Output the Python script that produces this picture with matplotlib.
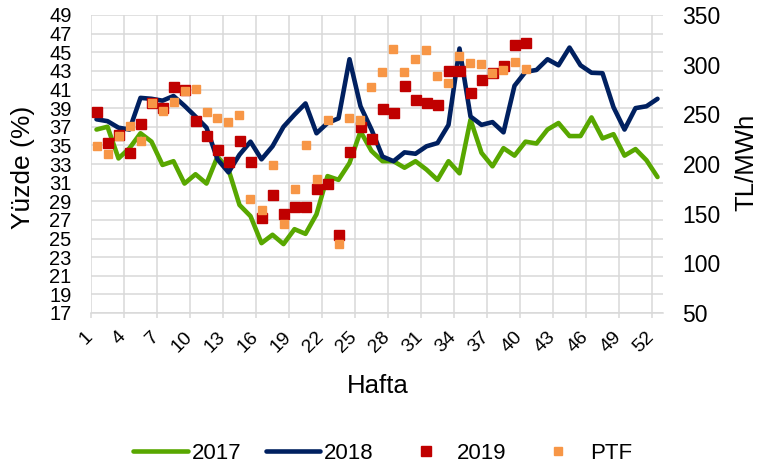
import numpy as np
import matplotlib
matplotlib.use("Agg")
import matplotlib.pyplot as plt

plt.rcParams["font.family"] = ["Liberation Sans", "DejaVu Sans"]

# haftalik degerler
weeks = np.arange(1, 53)

yuzde_2017 = [36.7, 37.0, 33.6, 34.7, 36.3, 35.4, 32.9, 33.3, 30.9, 31.9,
              30.9, 33.8, 32.4, 28.6, 27.4, 24.5, 25.4, 24.4, 26.0, 25.5,
              27.6, 31.7, 31.3, 33.1, 36.5, 34.4, 33.3, 33.3, 32.6, 33.3,
              32.4, 31.3, 33.3, 32.0, 37.75, 34.2, 32.75, 34.7, 33.9, 35.4,
              35.2, 36.7, 37.4, 36.0, 36.0, 38.0, 35.75, 36.2, 33.9, 34.6,
              33.4, 31.6]

yuzde_2018 = [37.8, 37.6, 36.9, 36.7, 40.1, 40.0, 39.8, 40.3, 39.25, 38.1,
              36.9, 33.5, 32.1, 34.0, 35.4, 33.5, 34.9, 37.0, 38.3, 39.5,
              36.3, 37.4, 37.9, 44.25, 39.2, 36.7, 33.8, 33.3, 34.25, 34.1,
              34.9, 35.25, 37.2, 45.4, 38.1, 37.2, 37.5, 36.4, 41.4, 42.9,
              43.1, 44.25, 43.6, 45.5, 43.6, 42.8, 42.75, 39.1, 36.7, 39.0,
              39.2, 40.0]

yuzde_2019 = [38.6, 35.25, 36.1, 34.2, 37.3, 39.6, 39.0, 41.25, 40.9, 37.6,
              36.0, 34.5, 33.2, 35.5, 33.2, 27.2, 29.7, 27.6, 28.4, 28.4,
              30.3, 30.8, 25.4, 34.3, 37.0, 35.7, 38.9, 38.5, 41.4, 39.9,
              39.5, 39.3, 43.0, 43.0, 40.6, 42.0, 42.8, 43.5, 45.8, 46.0]

ptf = [218, 210, 228, 238, 223, 261, 253, 262, 273, 276,
       252, 246, 242, 249, 165, 154, 199, 140, 175, 219,
       184.5, 244, 119, 246, 244, 278, 293, 316, 293, 306,
       315, 289, 281.5, 309, 302, 301, 292, 295, 303, 296]

weeks_2019 = np.arange(1, len(yuzde_2019) + 1)

left_ticks = np.arange(17, 50, 2)
right_ticks = np.arange(50, 351, 50)
week_ticks = np.arange(1, 53, 3)

grid_color = "#d9d9d9"

fig = plt.figure(figsize=(7.65, 4.7), dpi=100)
ax = fig.add_axes([91 / 765, 1 - 313 / 470, 572 / 765, 298 / 470])
ax2 = ax.twinx()

ax.plot(weeks, yuzde_2017, color="#58a700", linewidth=3.3,
        solid_capstyle="round", solid_joinstyle="round", label="2017")
ax.plot(weeks, yuzde_2018, color="#002060", linewidth=3.3,
        solid_capstyle="round", solid_joinstyle="round", label="2018")
ax.plot(weeks_2019, yuzde_2019, linestyle="none", marker="s",
        markersize=7.8, color="#c00000", label="2019")
ax2.plot(weeks_2019, ptf, linestyle="none", marker="s",
         markersize=6, color="#f79646", label="PTF")

ax.set_xlim(0.5, 52.5)
ax.set_ylim(17, 49)
ax2.set_ylim(50, 350)

ax.set_yticks(left_ticks)
ax2.set_yticks(right_ticks)
ax.set_xticks(week_ticks)
ax.set_xticks(np.arange(0.5, 52, 3), minor=True)

ax.grid(which="minor", axis="x", color=grid_color, linewidth=1.1)
ax.grid(which="major", axis="y", color=grid_color, linewidth=1.1)
ax.set_axisbelow(True)

ax.tick_params(axis="x", which="major", length=0, pad=11, labelsize=14,
               labelrotation=45)
ax.tick_params(axis="x", which="minor", length=3.6, width=1.1,
               color=grid_color, direction="out")
for lab in ax.get_xticklabels():
    lab.set_ha("right")

ax.tick_params(axis="y", length=0, pad=14, labelsize=14.5)
ax2.tick_params(axis="y", length=0, pad=14, labelsize=16.5)

for side in ["left", "right", "top"]:
    ax.spines[side].set_visible(False)
    ax2.spines[side].set_visible(False)
ax2.spines["bottom"].set_visible(False)
ax.spines["bottom"].set_color(grid_color)
ax.spines["bottom"].set_linewidth(1.1)

fig.text(0.494, 0.163, "Hafta", fontsize=18.5, ha="center", va="baseline")
fig.text(0.03, 0.643, "Yüzde (%)", fontsize=19, rotation=90,
         ha="center", va="center")
fig.text(0.975, 0.654, "TL/MWh", fontsize=18.5, rotation=90,
         ha="center", va="center")

h1, l1 = ax.get_legend_handles_labels()
h2, l2 = ax2.get_legend_handles_labels()
fig.legend(h1 + h2, l1 + l2, loc="center", bbox_to_anchor=(0.5, 0.036),
           ncol=4, frameon=False, fontsize=16, handlelength=2.45,
           handletextpad=0.18, columnspacing=1.11)

fig.savefig("out.png", dpi=100)
